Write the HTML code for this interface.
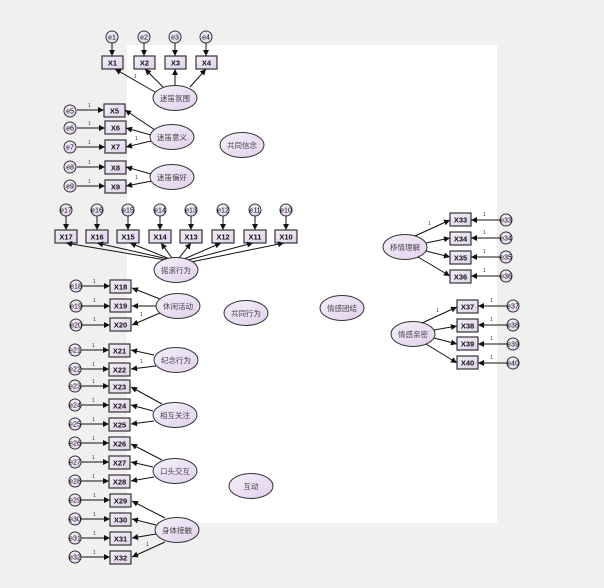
<!DOCTYPE html>
<html><head><meta charset="utf-8"><style>
html,body{margin:0;padding:0;background:#f0f0f0;}
svg{display:block;}
.b{fill:url(#gb);stroke:#333;stroke-width:1.2;}
.e{fill:url(#ge);stroke:#333;stroke-width:1;}
.c{fill:url(#ge);stroke:#333;stroke-width:1;}
.l{stroke:#111;stroke-width:1;fill:none;marker-end:url(#ar);}
.bt{font:bold 7.5px "Liberation Sans",sans-serif;fill:#111;text-anchor:middle;}
.et{font:7.5px "Liberation Sans","Noto Sans CJK SC",sans-serif;fill:#444;text-anchor:middle;}
.ct{font:7px "Liberation Sans",sans-serif;fill:#111;text-anchor:middle;}
.one{font:5px "Liberation Sans",sans-serif;fill:#333;}
</style></head><body>
<svg width="604" height="588" viewBox="0 0 604 588" xmlns="http://www.w3.org/2000/svg">
<defs>
<linearGradient id="gb" x1="0" y1="0" x2="1" y2="1"><stop offset="0" stop-color="#f2eef6"/><stop offset="1" stop-color="#e0d2ec"/></linearGradient>
<linearGradient id="ge" x1="0" y1="0" x2="1" y2="1"><stop offset="0" stop-color="#f4f0f8"/><stop offset="1" stop-color="#e2d0ee"/></linearGradient>
<marker id="ar" viewBox="0 0 10 10" refX="10" refY="5" markerWidth="7" markerHeight="6" orient="auto" markerUnits="userSpaceOnUse"><path d="M0,0L10,5L0,10z" fill="#111"/></marker>
</defs>
<rect x="0" y="0" width="604" height="588" fill="#f0f0f0"/>
<rect x="127" y="45" width="370" height="478" fill="#fff"/>

<!-- top group -->
<g>
<line class="l" x1="112" y1="43" x2="112" y2="56"/><line class="l" x1="144" y1="43" x2="144" y2="56"/><line class="l" x1="175" y1="43" x2="175" y2="56"/><line class="l" x1="206" y1="43" x2="206" y2="56"/>
<circle class="c" cx="112" cy="37" r="6"/><text class="ct" x="112" y="39.5">e1</text>
<circle class="c" cx="144" cy="37" r="6"/><text class="ct" x="144" y="39.5">e2</text>
<circle class="c" cx="175" cy="37" r="6"/><text class="ct" x="175" y="39.5">e3</text>
<circle class="c" cx="206" cy="37" r="6"/><text class="ct" x="206" y="39.5">e4</text>
<rect class="b" x="102" y="56" width="21" height="13"/><text class="bt" x="112.5" y="65.5">X1</text>
<rect class="b" x="134" y="56" width="21" height="13"/><text class="bt" x="144.5" y="65.5">X2</text>
<rect class="b" x="165" y="56" width="21" height="13"/><text class="bt" x="175.5" y="65.5">X3</text>
<rect class="b" x="196" y="56" width="21" height="13"/><text class="bt" x="206.5" y="65.5">X4</text>
<line class="l" x1="155" y1="92" x2="115" y2="69"/><line class="l" x1="163" y1="87" x2="145" y2="69"/><line class="l" x1="175" y1="85" x2="175" y2="69"/><line class="l" x1="190" y1="87" x2="206" y2="69"/>
<text class="one" x="134" y="78">1</text>
<ellipse class="e" cx="175" cy="98" rx="22" ry="12.5"/><text class="et" x="175" y="101">迷笛氛围</text>
</g>

<!-- 迷笛意义 / 偏好 -->
<g>
<line class="l" x1="77" y1="110" x2="104" y2="110"/><line class="l" x1="77" y1="128" x2="105" y2="128"/><line class="l" x1="77" y1="147" x2="105" y2="147"/><line class="l" x1="77" y1="167" x2="105" y2="167"/><line class="l" x1="77" y1="186" x2="105" y2="186"/>
<text class="one" x="88" y="107">1</text><text class="one" x="88" y="125">1</text><text class="one" x="88" y="144">1</text><text class="one" x="88" y="164">1</text><text class="one" x="88" y="183">1</text>
<circle class="c" cx="70" cy="111" r="6"/><text class="ct" x="70" y="113.5">e5</text>
<circle class="c" cx="70" cy="128" r="6"/><text class="ct" x="70" y="130.5">e6</text>
<circle class="c" cx="70" cy="147" r="6"/><text class="ct" x="70" y="149.5">e7</text>
<circle class="c" cx="70" cy="167" r="6"/><text class="ct" x="70" y="169.5">e8</text>
<circle class="c" cx="70" cy="186" r="6"/><text class="ct" x="70" y="188.5">e9</text>
<rect class="b" x="104" y="104" width="21" height="13"/><text class="bt" x="114.5" y="113.5">X5</text>
<rect class="b" x="105" y="121" width="21" height="13"/><text class="bt" x="115.5" y="130.5">X6</text>
<rect class="b" x="105" y="140" width="21" height="13"/><text class="bt" x="115.5" y="149.5">X7</text>
<rect class="b" x="105" y="161" width="21" height="13"/><text class="bt" x="115.5" y="170.5">X8</text>
<rect class="b" x="105" y="180" width="21" height="13"/><text class="bt" x="115.5" y="189.5">X9</text>
<line class="l" x1="155" y1="130" x2="125" y2="110"/><line class="l" x1="151" y1="135" x2="126" y2="128"/><line class="l" x1="151" y1="141" x2="126" y2="147"/>
<line class="l" x1="151" y1="174" x2="126" y2="167"/><line class="l" x1="152" y1="181" x2="126" y2="186"/>
<text class="one" x="135" y="140">1</text><text class="one" x="135" y="179">1</text>
<ellipse class="e" cx="172" cy="137" rx="22" ry="12.5"/><text class="et" x="172" y="140">迷笛意义</text>
<ellipse class="e" cx="172" cy="177" rx="22" ry="12.5"/><text class="et" x="172" y="180">迷笛偏好</text>
</g>
<ellipse class="e" cx="242" cy="145" rx="22" ry="12.5"/><text class="et" x="242" y="148">共同信念</text>

<!-- 摇滚行为 row -->
<g>
<line class="l" x1="66" y1="216" x2="66" y2="230"/><line class="l" x1="97" y1="216" x2="97" y2="230"/><line class="l" x1="128" y1="216" x2="128" y2="230"/><line class="l" x1="160" y1="216" x2="160" y2="230"/><line class="l" x1="191" y1="216" x2="191" y2="230"/><line class="l" x1="223" y1="216" x2="223" y2="230"/><line class="l" x1="255" y1="216" x2="255" y2="230"/><line class="l" x1="286" y1="216" x2="286" y2="230"/>
<circle class="c" cx="66" cy="210" r="6"/><text class="ct" x="66" y="212.5">e17</text>
<circle class="c" cx="97" cy="210" r="6"/><text class="ct" x="97" y="212.5">e16</text>
<circle class="c" cx="128" cy="210" r="6"/><text class="ct" x="128" y="212.5">e15</text>
<circle class="c" cx="160" cy="210" r="6"/><text class="ct" x="160" y="212.5">e14</text>
<circle class="c" cx="191" cy="210" r="6"/><text class="ct" x="191" y="212.5">e13</text>
<circle class="c" cx="223" cy="210" r="6"/><text class="ct" x="223" y="212.5">e12</text>
<circle class="c" cx="255" cy="210" r="6"/><text class="ct" x="255" y="212.5">e11</text>
<circle class="c" cx="286" cy="210" r="6"/><text class="ct" x="286" y="212.5">e10</text>
<rect class="b" x="55" y="230" width="22" height="13"/><text class="bt" x="66" y="239.5">X17</text>
<rect class="b" x="86" y="230" width="22" height="13"/><text class="bt" x="97" y="239.5">X16</text>
<rect class="b" x="117" y="230" width="22" height="13"/><text class="bt" x="128" y="239.5">X15</text>
<rect class="b" x="149" y="230" width="22" height="13"/><text class="bt" x="160" y="239.5">X14</text>
<rect class="b" x="180" y="230" width="22" height="13"/><text class="bt" x="191" y="239.5">X13</text>
<rect class="b" x="212" y="230" width="22" height="13"/><text class="bt" x="223" y="239.5">X12</text>
<rect class="b" x="244" y="230" width="22" height="13"/><text class="bt" x="255" y="239.5">X11</text>
<rect class="b" x="275" y="230" width="22" height="13"/><text class="bt" x="286" y="239.5">X10</text>
<line class="l" x1="166" y1="260" x2="66" y2="243"/><line class="l" x1="168" y1="259" x2="97" y2="243"/><line class="l" x1="170" y1="259" x2="130" y2="243"/><line class="l" x1="172" y1="258" x2="161" y2="243"/><line class="l" x1="179" y1="258" x2="191" y2="243"/><line class="l" x1="184" y1="259" x2="221" y2="243"/><line class="l" x1="188" y1="260" x2="253" y2="243"/><line class="l" x1="191" y1="262" x2="284" y2="243"/>
<ellipse class="e" cx="176" cy="270" rx="22" ry="12.5"/><text class="et" x="176" y="273">摇滚行为</text>
</g>

<!-- 休闲活动 -->
<g>
<line class="l" x1="82" y1="286" x2="110" y2="286"/><line class="l" x1="82" y1="306" x2="110" y2="306"/><line class="l" x1="82" y1="325" x2="110" y2="325"/>
<text class="one" x="93" y="283">1</text><text class="one" x="93" y="302">1</text><text class="one" x="93" y="321">1</text>
<circle class="c" cx="76" cy="286" r="6"/><text class="ct" x="76" y="288.5">e18</text>
<circle class="c" cx="76" cy="306" r="6"/><text class="ct" x="76" y="308.5">e19</text>
<circle class="c" cx="76" cy="325" r="6"/><text class="ct" x="76" y="327.5">e20</text>
<rect class="b" x="110" y="280" width="21" height="13"/><text class="bt" x="120.5" y="289.5">X18</text>
<rect class="b" x="110" y="299" width="21" height="13"/><text class="bt" x="120.5" y="308.5">X19</text>
<rect class="b" x="110" y="318" width="21" height="13"/><text class="bt" x="120.5" y="327.5">X20</text>
<line class="l" x1="160" y1="299" x2="132" y2="288"/><line class="l" x1="156" y1="306" x2="132" y2="306"/><line class="l" x1="160" y1="313" x2="132" y2="325"/>
<text class="one" x="140" y="316">1</text>
<ellipse class="e" cx="178" cy="306" rx="22" ry="12.5"/><text class="et" x="178" y="309">休闲活动</text>
</g>
<ellipse class="e" cx="246" cy="313" rx="22" ry="12.5"/><text class="et" x="246" y="316">共同行为</text>
<ellipse class="e" cx="342" cy="308" rx="22" ry="12.5"/><text class="et" x="342" y="311">情感团结</text>

<!-- lower left -->
<g>
<line class="l" x1="81" y1="350" x2="109" y2="350"/><line class="l" x1="81" y1="369" x2="109" y2="369"/><line class="l" x1="81" y1="386" x2="109" y2="386"/><line class="l" x1="81" y1="405" x2="109" y2="405"/><line class="l" x1="81" y1="424" x2="109" y2="424"/><line class="l" x1="81" y1="443" x2="109" y2="443"/><line class="l" x1="81" y1="462" x2="109" y2="462"/><line class="l" x1="81" y1="481" x2="109" y2="481"/><line class="l" x1="81" y1="500" x2="110" y2="500"/><line class="l" x1="81" y1="519" x2="110" y2="519"/><line class="l" x1="81" y1="538" x2="110" y2="538"/><line class="l" x1="81" y1="557" x2="110" y2="557"/>
<text class="one" x="92" y="347">1</text><text class="one" x="92" y="366">1</text><text class="one" x="92" y="383">1</text><text class="one" x="92" y="402">1</text><text class="one" x="92" y="421">1</text><text class="one" x="92" y="440">1</text><text class="one" x="92" y="459">1</text><text class="one" x="92" y="478">1</text><text class="one" x="93" y="497">1</text><text class="one" x="93" y="516">1</text><text class="one" x="93" y="535">1</text><text class="one" x="93" y="554">1</text>
<circle class="c" cx="75" cy="350" r="6"/><text class="ct" x="75" y="352.5">e21</text>
<circle class="c" cx="75" cy="369" r="6"/><text class="ct" x="75" y="371.5">e22</text>
<circle class="c" cx="75" cy="386" r="6"/><text class="ct" x="75" y="388.5">e23</text>
<circle class="c" cx="75" cy="405" r="6"/><text class="ct" x="75" y="407.5">e24</text>
<circle class="c" cx="75" cy="424" r="6"/><text class="ct" x="75" y="426.5">e25</text>
<circle class="c" cx="75" cy="443" r="6"/><text class="ct" x="75" y="445.5">e26</text>
<circle class="c" cx="75" cy="462" r="6"/><text class="ct" x="75" y="464.5">e27</text>
<circle class="c" cx="75" cy="481" r="6"/><text class="ct" x="75" y="483.5">e28</text>
<circle class="c" cx="75" cy="500" r="6"/><text class="ct" x="75" y="502.5">e29</text>
<circle class="c" cx="75" cy="519" r="6"/><text class="ct" x="75" y="521.5">e30</text>
<circle class="c" cx="75" cy="538" r="6"/><text class="ct" x="75" y="540.5">e31</text>
<circle class="c" cx="75" cy="557" r="6"/><text class="ct" x="75" y="559.5">e32</text>
<rect class="b" x="109" y="344" width="21" height="13"/><text class="bt" x="119.5" y="353.5">X21</text>
<rect class="b" x="109" y="363" width="21" height="13"/><text class="bt" x="119.5" y="372.5">X22</text>
<rect class="b" x="109" y="380" width="21" height="13"/><text class="bt" x="119.5" y="389.5">X23</text>
<rect class="b" x="109" y="399" width="21" height="13"/><text class="bt" x="119.5" y="408.5">X24</text>
<rect class="b" x="109" y="418" width="21" height="13"/><text class="bt" x="119.5" y="427.5">X25</text>
<rect class="b" x="109" y="437" width="21" height="13"/><text class="bt" x="119.5" y="446.5">X26</text>
<rect class="b" x="109" y="456" width="21" height="13"/><text class="bt" x="119.5" y="465.5">X27</text>
<rect class="b" x="109" y="475" width="21" height="13"/><text class="bt" x="119.5" y="484.5">X28</text>
<rect class="b" x="110" y="494" width="21" height="13"/><text class="bt" x="120.5" y="503.5">X29</text>
<rect class="b" x="110" y="513" width="21" height="13"/><text class="bt" x="120.5" y="522.5">X30</text>
<rect class="b" x="110" y="532" width="21" height="13"/><text class="bt" x="120.5" y="541.5">X31</text>
<rect class="b" x="110" y="551" width="21" height="13"/><text class="bt" x="120.5" y="560.5">X32</text>
<line class="l" x1="154" y1="355" x2="131" y2="350"/><line class="l" x1="156" y1="366" x2="131" y2="369"/>
<text class="one" x="140" y="363">1</text>
<line class="l" x1="162" y1="404" x2="131" y2="387"/><line class="l" x1="153" y1="411" x2="131" y2="405"/><line class="l" x1="154" y1="421" x2="131" y2="424"/>
<line class="l" x1="162" y1="460" x2="131" y2="444"/><line class="l" x1="153" y1="467" x2="131" y2="462"/><line class="l" x1="154" y1="477" x2="131" y2="481"/>
<line class="l" x1="165" y1="518" x2="132" y2="501"/><line class="l" x1="156" y1="525" x2="132" y2="519"/><line class="l" x1="156" y1="534" x2="132" y2="538"/><line class="l" x1="165" y1="542" x2="132" y2="557"/>
<text class="one" x="146" y="546">1</text>
<ellipse class="e" cx="176" cy="360" rx="22" ry="12.5"/><text class="et" x="176" y="363">纪念行为</text>
<ellipse class="e" cx="175" cy="415" rx="22" ry="12.5"/><text class="et" x="175" y="418">相互关注</text>
<ellipse class="e" cx="175" cy="471" rx="22" ry="12.5"/><text class="et" x="175" y="474">口头交互</text>
<ellipse class="e" cx="177" cy="530" rx="22" ry="12.5"/><text class="et" x="177" y="533">身体接触</text>
</g>
<ellipse class="e" cx="251" cy="486" rx="22" ry="12.5"/><text class="et" x="251" y="489">互动</text>

<!-- right -->
<g>
<ellipse class="e" cx="405" cy="247" rx="22" ry="12.5"/><text class="et" x="405" y="250">移情理解</text>
<line class="l" x1="415" y1="236" x2="450" y2="220"/><line class="l" x1="426" y1="243" x2="450" y2="238"/><line class="l" x1="426" y1="251" x2="450" y2="257"/><line class="l" x1="418" y1="257" x2="450" y2="276"/>
<text class="one" x="428" y="225">1</text>
<rect class="b" x="450" y="213" width="21" height="13"/><text class="bt" x="460.5" y="222.5">X33</text>
<rect class="b" x="450" y="232" width="21" height="13"/><text class="bt" x="460.5" y="241.5">X34</text>
<rect class="b" x="450" y="251" width="21" height="13"/><text class="bt" x="460.5" y="260.5">X35</text>
<rect class="b" x="450" y="270" width="21" height="13"/><text class="bt" x="460.5" y="279.5">X36</text>
<line class="l" x1="500" y1="220" x2="471" y2="220"/><line class="l" x1="500" y1="238" x2="471" y2="238"/><line class="l" x1="500" y1="257" x2="471" y2="257"/><line class="l" x1="500" y1="276" x2="471" y2="276"/>
<text class="one" x="483" y="216">1</text><text class="one" x="483" y="234">1</text><text class="one" x="483" y="253">1</text><text class="one" x="483" y="272">1</text>
<circle class="c" cx="506" cy="220" r="6"/><text class="ct" x="506" y="222.5">e33</text>
<circle class="c" cx="506" cy="238" r="6"/><text class="ct" x="506" y="240.5">e34</text>
<circle class="c" cx="506" cy="257" r="6"/><text class="ct" x="506" y="259.5">e35</text>
<circle class="c" cx="506" cy="276" r="6"/><text class="ct" x="506" y="278.5">e36</text>

<ellipse class="e" cx="413" cy="334" rx="22" ry="12.5"/><text class="et" x="413" y="337">情感亲密</text>
<line class="l" x1="422" y1="323" x2="457" y2="307"/><line class="l" x1="434" y1="330" x2="457" y2="326"/><line class="l" x1="434" y1="338" x2="457" y2="344"/><line class="l" x1="426" y1="344" x2="457" y2="363"/>
<text class="one" x="436" y="312">1</text>
<rect class="b" x="457" y="300" width="21" height="13"/><text class="bt" x="467.5" y="309.5">X37</text>
<rect class="b" x="457" y="319" width="21" height="13"/><text class="bt" x="467.5" y="328.5">X38</text>
<rect class="b" x="457" y="337" width="21" height="13"/><text class="bt" x="467.5" y="346.5">X39</text>
<rect class="b" x="457" y="356" width="21" height="13"/><text class="bt" x="467.5" y="365.5">X40</text>
<line class="l" x1="507" y1="306" x2="478" y2="306"/><line class="l" x1="507" y1="325" x2="478" y2="325"/><line class="l" x1="507" y1="344" x2="478" y2="344"/><line class="l" x1="507" y1="363" x2="478" y2="363"/>
<text class="one" x="490" y="302">1</text><text class="one" x="490" y="321">1</text><text class="one" x="490" y="340">1</text><text class="one" x="490" y="359">1</text>
<circle class="c" cx="513" cy="306" r="6"/><text class="ct" x="513" y="308.5">e37</text>
<circle class="c" cx="513" cy="325" r="6"/><text class="ct" x="513" y="327.5">e38</text>
<circle class="c" cx="513" cy="344" r="6"/><text class="ct" x="513" y="346.5">e39</text>
<circle class="c" cx="513" cy="363" r="6"/><text class="ct" x="513" y="365.5">e40</text>
</g>
</svg>
</body></html>
